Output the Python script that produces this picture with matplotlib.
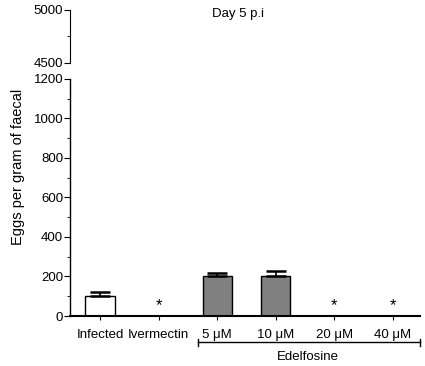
import matplotlib
matplotlib.use("Agg")
import matplotlib.pyplot as plt
import matplotlib.transforms as mtransforms
from matplotlib.ticker import MultipleLocator

# データ
categories = ["Infected", "Ivermectin", "5 \u03bcM", "10 \u03bcM", "20 \u03bcM", "40 \u03bcM"]
means = [100, 0, 200, 200, 0, 0]
errors = [20, 0, 20, 30, 0, 0]
colors = ["white", "white", "#808080", "#808080", "white", "white"]
significant = [False, True, False, False, True, True]

plt.rcParams['font.family'] = ['Liberation Sans', 'DejaVu Sans']
plt.rcParams['font.size'] = 9.5

fig = plt.figure(figsize=(4.25, 3.66), dpi=100)
ax_top = fig.add_axes([0.165, 0.828, 0.823, 0.145])
ax = fig.add_axes([0.165, 0.1366, 0.823, 0.648])

x = list(range(len(categories)))

# 下段
for i in x:
    if means[i] > 0:
        ax.bar(i, means[i], width=0.5, color=colors[i], edgecolor='black', linewidth=1)
        ax.errorbar(i, means[i], yerr=[[0], [errors[i]]], fmt='none', ecolor='black',
                    elinewidth=1.2, capsize=7, capthick=1.8)
    if significant[i]:
        ax.text(i, 15, "*", ha='center', va='bottom', fontsize=12)

ax.set_xlim(-0.51, 5.46)
ax.set_ylim(0, 1200)
ax.yaxis.set_major_locator(MultipleLocator(200))
ax.yaxis.set_minor_locator(MultipleLocator(100))
ax.set_xticks(x)
ax.set_xticklabels(categories)
ax.tick_params(axis='x', length=3, pad=6)
ax.tick_params(axis='y', which='major', length=4, pad=1)
ax.tick_params(axis='y', which='minor', length=2)
ax.spines['top'].set_visible(False)
ax.spines['right'].set_visible(False)
ax.spines['left'].set_linewidth(1)
ax.spines['bottom'].set_linewidth(1.5)
ax.set_ylabel("Eggs per gram of faecal", fontsize=10.5)
ax.yaxis.set_label_coords(-0.13, 0.63)

# Edelfosine のブラケット
trans = mtransforms.blended_transform_factory(ax.transData, ax.transAxes)
ax.plot([1.68, 5.46], [-0.11, -0.11], color='black', lw=1, transform=trans, clip_on=False)
ax.plot([1.68, 1.68], [-0.095, -0.125], color='black', lw=1, transform=trans, clip_on=False)
ax.plot([5.46, 5.46], [-0.095, -0.125], color='black', lw=1, transform=trans, clip_on=False)
ax.text(3.55, -0.172, "Edelfosine", ha='center', va='center', transform=trans)

# 上段
ax_top.set_xlim(-0.51, 5.46)
ax_top.set_ylim(4500, 5000)
ax_top.yaxis.set_major_locator(MultipleLocator(500))
ax_top.yaxis.set_minor_locator(MultipleLocator(250))
ax_top.tick_params(axis='y', which='major', length=4, pad=1)
ax_top.tick_params(axis='y', which='minor', length=2)
ax_top.set_xticks([])
for side in ['top', 'right', 'bottom']:
    ax_top.spines[side].set_visible(False)
ax_top.text(0.48, 0.92, "Day 5 p.i", ha='center', va='center', transform=ax_top.transAxes)

fig.savefig("out.png", dpi=100)
